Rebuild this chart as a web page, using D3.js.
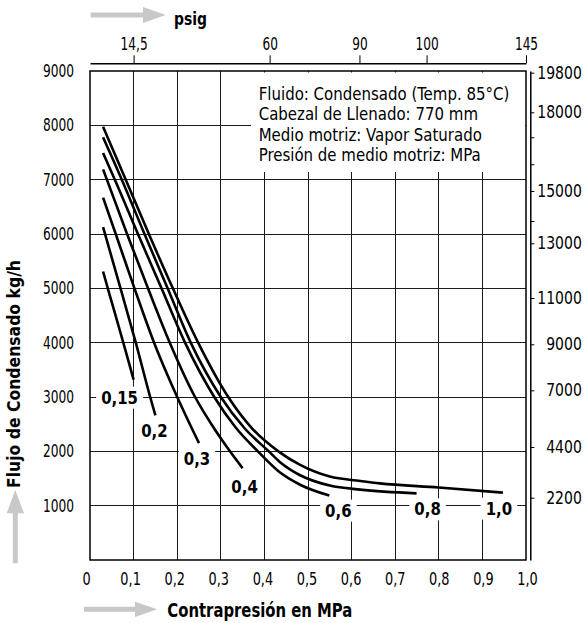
<!DOCTYPE html>
<html>
<head>
<meta charset="utf-8">
<script src="https://cdn.jsdelivr.net/npm/d3@7"></script>
<style>
  html, body { margin: 0; padding: 0; background: #fff; }
  svg { display: block; }
  text { font-family: "DejaVu Sans Condensed", "DejaVu Sans", sans-serif; fill: #000; }
</style>
</head>
<body>
<svg id="chart" width="587" height="623"></svg>
<script>
// Back pressure axis (MPa) and condensate flow axis (kg/h)
const xTicks = [0, 0.1, 0.2, 0.3, 0.4, 0.5, 0.6, 0.7, 0.8, 0.9, 1.0];
const xTickLabels = ["0", "0,1", "0,2", "0,3", "0,4", "0,5", "0,6", "0,7", "0,8", "0,9", "1,0"];
const yTicks = [1000, 2000, 3000, 4000, 5000, 6000, 7000, 8000, 9000];

// psig scale along the top, placed at its MPa position
const psigLabels = ["14,5", "60", "90", "100", "145"];
const psigPos = [0.1, 0.412, 0.618, 0.772, 1.0];

// secondary flow scale on the right, placed at its kg/h position
const rightLabels = ["19800", "18000", "", "", "15000", "", "13000", "11000", "9000", "7000", "4400", "2200"];
const rightPos = [8969, 8240, 7780, 7283, 6792, 6240, 5829, 4822, 3970, 3123, 2080, 1147];

// motive pressure curves: back pressure (MPa) vs condensate flow (kg/h)
const motive = ["0,15", "0,2", "0,3", "0,4", "0,6", "0,8", "1,0"];
const bp015 = [0.03, 0.045, 0.063, 0.082, 0.100];
const flow015 = [5310, 4880, 4380, 3840, 3320];
const bp02 = [0.03, 0.07, 0.105, 0.138, 0.150];
const flow02 = [6125, 5000, 4000, 3000, 2660];
const bp03 = [0.03, 0.059, 0.102, 0.147, 0.20, 0.25];
const flow03 = [6670, 6000, 5000, 4000, 3000, 2150];
const bp04 = [0.03, 0.085, 0.133, 0.183, 0.241, 0.28, 0.321, 0.35];
const flow04 = [7190, 6000, 5000, 4000, 3000, 2480, 2000, 1690];
const bp06 = [0.03, 0.057, 0.11, 0.164, 0.218, 0.285, 0.335, 0.385, 0.436, 0.482, 0.549];
const flow06 = [7490, 7000, 6000, 5000, 4000, 3000, 2430, 2000, 1610, 1385, 1185];
const bp08 = [0.03, 0.073, 0.125, 0.178, 0.231, 0.30, 0.355, 0.41, 0.436, 0.482, 0.55, 0.62, 0.749];
const flow08 = [7780, 7000, 6000, 5000, 4000, 3000, 2420, 2000, 1800, 1560, 1370, 1295, 1227];
const bp10 = [0.03, 0.082, 0.135, 0.19, 0.248, 0.317, 0.372, 0.432, 0.482, 0.55, 0.62, 0.665, 0.80, 0.947];
const flow10 = [7975, 7000, 6000, 5000, 4000, 3000, 2420, 2000, 1750, 1535, 1455, 1410, 1335, 1240];

const legendLines = [
  "Fluido: Condensado (Temp. 85°C)",
  "Cabezal de Llenado: 770 mm",
  "Medio motriz: Vapor Saturado",
  "Presión de medio motriz: MPa"
];

// label placement relative to each curve's last point (px)
const labelOffset = [[-14, 24], [-1, 22], [-2, 22], [2, 25], [9, 21], [11, 22], [-4, 22]];

const series = [
  [bp015, flow015], [bp02, flow02], [bp03, flow03], [bp04, flow04],
  [bp06, flow06], [bp08, flow08], [bp10, flow10]
].map(([bp, fl], i) => ({ label: motive[i], pts: bp.map((b, j) => [b, fl[j]]) }));

const svg = d3.select("#chart");
const x = d3.scaleLinear().domain([0, 1]).range([90, 526]);
const y = d3.scaleLinear().domain([0, 9000]).range([560, 71]);

// compress text horizontally by a factor of its natural width
function squeeze(sel, k) {
  sel.each(function () {
    const w = this.getComputedTextLength();
    if (!w) return;
    this.setAttribute("textLength", (w * k).toFixed(2));
    this.setAttribute("lengthAdjust", "spacingAndGlyphs");
  });
}
// factor that brings a sample string to a given width at a given size
function factorFor(sample, size, width, weight) {
  const t = svg.append("text").attr("font-size", size).attr("font-weight", weight || "normal").text(sample);
  const w = t.node().getComputedTextLength();
  t.remove();
  return width / w;
}
function fitTo(sel, width) {
  sel.attr("textLength", width).attr("lengthAdjust", "spacingAndGlyphs");
}

const tickSize = 17;

// grid
const grid = svg.append("g").attr("stroke", "#1a1a1a").attr("stroke-width", 1).attr("shape-rendering", "crispEdges");
grid.selectAll("line.v").data(xTicks.slice(1, -1)).join("line")
  .attr("x1", d => x(d)).attr("x2", d => x(d)).attr("y1", y(9000)).attr("y2", y(0));
grid.selectAll("line.h").data(yTicks.slice(0, -1)).join("line")
  .attr("x1", x(0)).attr("x2", x(1)).attr("y1", d => y(d)).attr("y2", d => y(d));

// legend block, masking the grid behind it
svg.append("rect").attr("x", 251).attr("y", 72.5).attr("width", 274).attr("height", 99.5).attr("fill", "#fff");
const legend = svg.append("g").attr("font-size", 17);
legend.selectAll("text").data(legendLines).join("text")
  .attr("x", 258.7).attr("y", (d, i) => 99.5 + i * 20.6).text(d => d);
{
  const first = legend.select("text").node().getComputedTextLength();
  squeeze(legend.selectAll("text"), 250.6 / first);
}

// curve labels with white backing
const lbl = svg.append("g");
series.forEach((s, i) => {
  const last = s.pts[s.pts.length - 1];
  const cx = x(last[0]) + labelOffset[i][0];
  const by = y(last[1]) + labelOffset[i][1];
  const t = lbl.append("text").attr("x", cx).attr("y", by).attr("text-anchor", "middle")
    .attr("font-weight", "bold").attr("font-size", 17.5).text(s.label);
  squeeze(t, 0.95);
  const bb = t.node().getBBox();
  lbl.insert("rect", "text").attr("x", bb.x - 5).attr("y", bb.y - 1)
    .attr("width", bb.width + 10).attr("height", bb.height + 2).attr("fill", "#fff");
});

// curves
const line = d3.line().x(d => x(d[0])).y(d => y(d[1])).curve(d3.curveMonotoneX);
svg.append("g").selectAll("path").data(series).join("path")
  .attr("d", d => line(d.pts)).attr("fill", "none").attr("stroke", "#000")
  .attr("stroke-width", 2.6).attr("stroke-linecap", "butt");

// plot frame
svg.append("rect").attr("x", x(0)).attr("y", y(9000)).attr("width", x(1) - x(0)).attr("height", y(0) - y(9000))
  .attr("fill", "none").attr("stroke", "#000").attr("stroke-width", 1.5);

// bottom axis labels
const gx = svg.append("g").attr("transform", `translate(0,${y(0)})`)
  .call(d3.axisBottom(x).tickValues(xTicks).tickFormat((d, i) => xTickLabels[i]).tickSize(0).tickPadding(13));
gx.select(".domain").remove();
gx.selectAll("text").attr("font-size", tickSize).attr("font-family", null).attr("dx", d => -4 + 5 * d);
squeeze(gx.selectAll("text"), factorFor("0,5", tickSize, 20.5));

// left axis labels
const gy = svg.append("g").attr("transform", `translate(${x(0)},0)`)
  .call(d3.axisLeft(y).tickValues(yTicks).tickFormat(d3.format("d")).tickSize(0).tickPadding(16));
gy.select(".domain").remove();
gy.selectAll("text").attr("font-size", tickSize).attr("font-family", null);
squeeze(gy.selectAll("text"), factorFor("9000", tickSize, 31));

// top psig axis
const gt = svg.append("g").attr("transform", "translate(0,63.3)")
  .call(d3.axisTop(x).tickValues(psigPos).tickFormat((d, i) => psigLabels[i]).tickSize(8).tickSizeOuter(0).tickPadding(5));
gt.select(".domain").attr("stroke-width", 1.5);
gt.selectAll("text").attr("font-size", tickSize).attr("font-family", null);
squeeze(gt.selectAll("text"), factorFor("14,5", tickSize, 27));

// right secondary axis
const gr = svg.append("g").attr("transform", "translate(530.3,0)")
  .call(d3.axisRight(y).tickValues(rightPos).tickFormat((d, i) => rightLabels[i]).tickSize(4).tickSizeOuter(0));
gr.select(".domain").attr("stroke-width", 1.5);
gr.selectAll("text").attr("font-size", tickSize).attr("font-family", null)
  .attr("text-anchor", "end").attr("x", 51.5);
squeeze(gr.selectAll("text"), factorFor("19800", tickSize, 44.5));

// gray direction arrows
const arrowFill = "#c8c8c8";
svg.append("path").attr("fill", arrowFill)
  .attr("d", "M90.7,12.5H143V7L165.7,15L143,23V17.5H90.7Z");
svg.append("path").attr("fill", arrowFill)
  .attr("d", "M84,606.8H135V601.7L157.3,609.3L135,617V611.8H84Z");
svg.append("path").attr("fill", arrowFill)
  .attr("d", "M12.8,563.3V513.3H6.7L15.3,490L24,513.3H17.8V563.3Z");

// axis titles
const psig = svg.append("text").attr("x", 174).attr("y", 25).attr("font-weight", "bold")
  .attr("font-size", 17.5).text("psig");
fitTo(psig, 33);
const xTitle = svg.append("text").attr("x", 167.3).attr("y", 617.3).attr("font-weight", "bold")
  .attr("font-size", 19).text("Contrapresión en MPa");
fitTo(xTitle, 185);
const yTitle = svg.append("text").attr("transform", "translate(20,374) rotate(-90)")
  .attr("text-anchor", "middle").attr("font-weight", "bold").attr("font-size", 18.5)
  .text("Flujo de Condensado kg/h");
fitTo(yTitle, 228);
</script>
</body>
</html>
